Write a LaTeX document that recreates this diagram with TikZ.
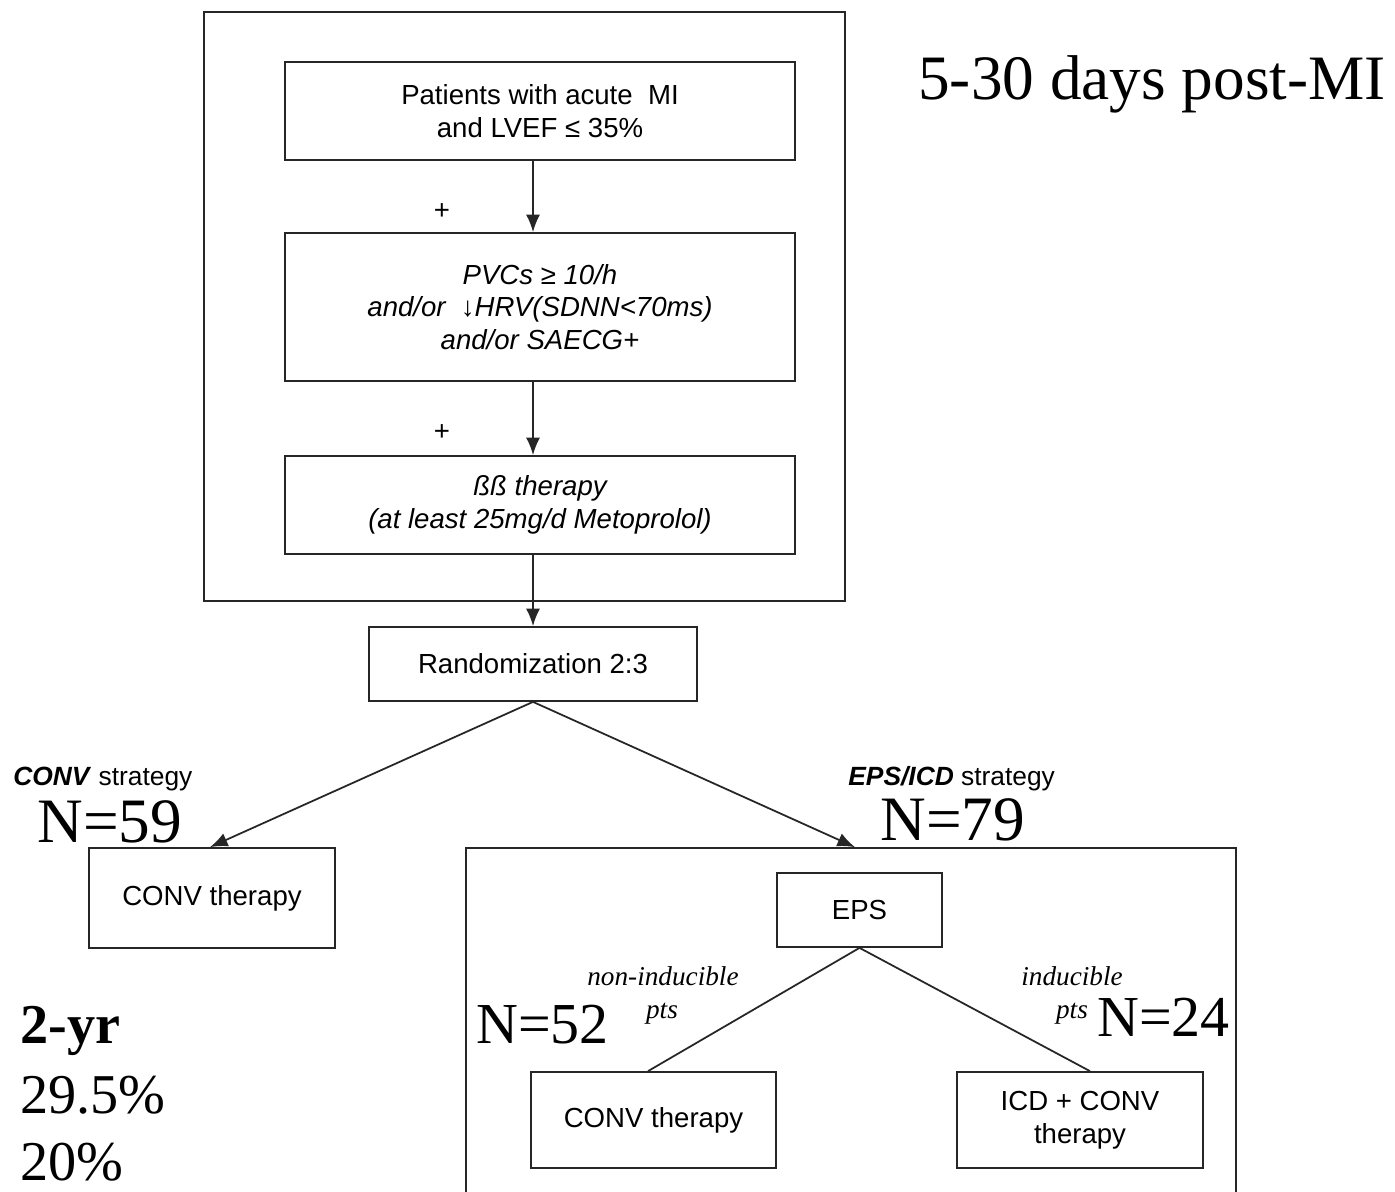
\documentclass[tikz,border=0pt]{standalone}
\usepackage{fontspec}
\setmainfont{Liberation Serif}
\setsansfont{Liberation Sans}
\usetikzlibrary{arrows.meta}
\begin{document}
\begin{tikzpicture}[x=0.02cm,y=-0.02cm,
  box/.style={draw=black!85, line width=1pt, inner sep=2pt},
  sf/.style={font=\sffamily\fontsize{15.7}{18.6}\selectfont, align=center},
  arr/.style={draw=black!85, line width=1pt, -{Latex[length=10pt,width=8pt]}},
  ln/.style={draw=black!85, line width=1pt},
  bigN/.style={font=\fontsize{36}{40}\selectfont, inner sep=0pt, anchor=base west},
  midN/.style={font=\fontsize{33}{36}\selectfont, inner sep=0pt, anchor=base west},
  res/.style={font=\fontsize{32}{36}\selectfont, inner sep=0pt, anchor=base west},
  lbl/.style={font=\sffamily\fontsize{15}{18}\selectfont, inner sep=0pt, anchor=base west},
  pts/.style={font=\itshape\fontsize{15.5}{18}\selectfont, inner sep=0pt, anchor=base},
]
\clip (0,0) rectangle (1395,1192);
\fill[white] (0,0) rectangle (1395,1192);

% outer box
\draw[ln] (204,12) rectangle (845,601);

\node[box, sf, minimum width=10.2cm, minimum height=1.96cm] (b1) at (540,111)
  {Patients with acute\ \ MI\\and LVEF ≤ 35\%};
\node[box, sf, minimum width=10.2cm, minimum height=2.96cm] (b2) at (540,307)
  {\itshape PVCs ≥ 10/h\\\itshape and/or\ \ ↓HRV(SDNN<70ms)\\\itshape and/or SAECG+};
\node[box, sf, minimum width=10.2cm, minimum height=1.96cm] (b3) at (540,505)
  {\itshape ßß therapy\\\itshape (at least 25mg/d Metoprolol)};
\node[box, sf, minimum width=6.56cm, minimum height=1.48cm] (rand) at (533,664)
  {Randomization 2:3};

\node[sf, inner sep=0pt] (p1) at (442,212) {+};
\node[sf, inner sep=0pt] (p2) at (442,433) {+};

\draw[arr] ([xshift=-0.14cm]b1.south) -- ([xshift=-0.14cm]b2.north);
\draw[arr] ([xshift=-0.14cm]b2.south) -- ([xshift=-0.14cm]b3.north);
\draw[arr] ([xshift=-0.14cm]b3.south) -- (rand.north);

\node[box, sf, minimum width=4.92cm, minimum height=2cm] (conv1) at (212,898) {CONV therapy};
\node[box, minimum width=15.4cm, minimum height=7.04cm] (eicd) at (851,1024) {};

\draw[arr] (rand.south) -- ([xshift=-0.04cm]conv1.north);
\draw[arr] (rand.south) -- ([xshift=0.08cm]eicd.north);

\node[box, sf, minimum width=3.3cm, minimum height=1.48cm] (eps) at (859.5,910) {EPS};
\node[box, sf, minimum width=4.9cm, minimum height=1.92cm] (conv2) at (653.5,1120) {CONV therapy};
\node[box, sf, minimum width=4.92cm, minimum height=1.92cm] (icd) at (1080,1120) {ICD + CONV\\therapy};

\draw[ln] (eps.south) -- ([xshift=-0.11cm]conv2.north);
\draw[ln] (eps.south) -- ([xshift=0.2cm]icd.north);

% labels
\node[lbl] (cs) at (13,785) {\textbf{\textit{CONV}} strategy};
\node[lbl] (es) at (848,785) {\textbf{\textit{EPS/ICD}} strategy};
\node[bigN] (n59) at (37,842) {N=59};
\node[bigN] (n79) at (880,840) {N=79};
\node[midN] (n52) at (476,1043) {N=52};
\node[midN] (n24) at (1097,1036) {N=24};
\node[bigN] (days) at (918,100) {5-30 days post-MI};

\node[pts] (ni) at (663,985) {non-inducible};
\node[pts] (nip) at (662,1018) {pts};
\node[pts] (ind) at (1072,985) {inducible};
\node[pts] (indp) at (1072,1018) {pts};

\node[res] (yr) at (20,1043) {\textbf{2-yr}};
\node[res] (r1) at (20,1113) {29.5\%};
\node[res] (r2) at (20,1180) {20\%};
\end{tikzpicture}
\end{document}
